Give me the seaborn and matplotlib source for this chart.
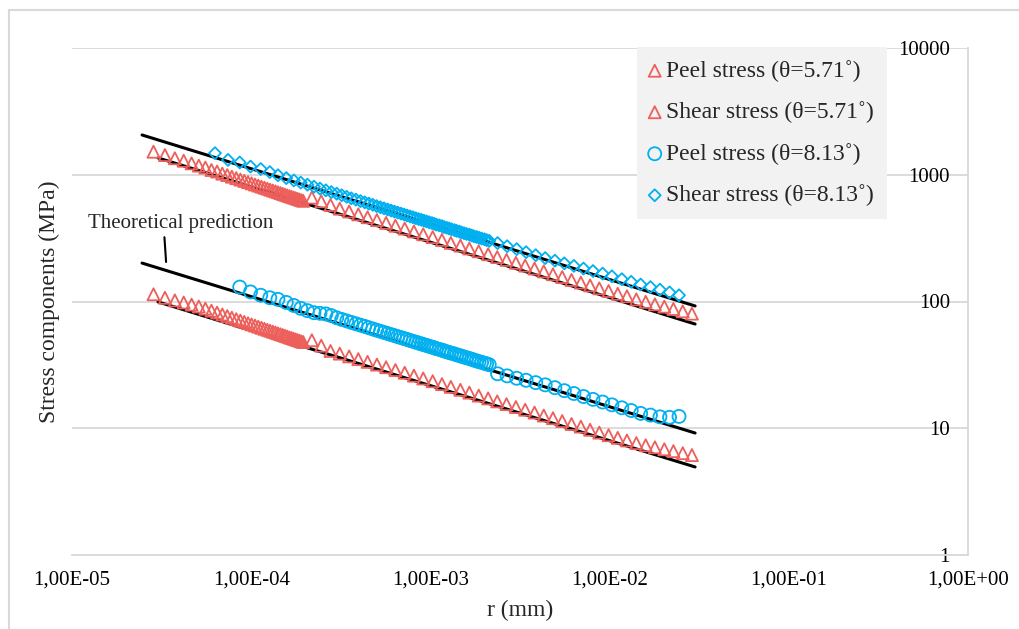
"""Stress components near the wedge tip versus distance r, log-log, with theoretical prediction lines."""

import matplotlib
matplotlib.use("Agg")
import matplotlib.pyplot as plt
from matplotlib.lines import Line2D
from matplotlib.ticker import NullLocator
import seaborn as sns

# --- data ---
# theta = 5.71 deg (triangles), r in mm, stresses in MPa
red_r = [2.85e-5, 3.3e-5, 3.75e-5, 4.2e-5, 4.65e-5, 5.1e-5, 5.55e-5, 6.0e-5, 6.45e-5, 6.9e-5,
         7.35e-5, 7.8e-5, 8.25e-5, 8.7e-5, 9.15e-5, 9.6e-5, 1.005e-4, 1.05e-4, 1.095e-4, 1.14e-4,
         1.185e-4, 1.23e-4, 1.275e-4, 1.32e-4, 1.365e-4, 1.41e-4, 1.455e-4, 1.5e-4, 1.545e-4, 1.59e-4,
         1.635e-4, 1.68e-4, 1.725e-4, 1.77e-4, 1.815e-4, 1.86e-4, 1.905e-4, 1.95e-4,
         2.18e-4, 2.46e-4, 2.77e-4, 3.12e-4, 3.52e-4, 3.96e-4, 4.46e-4, 5.03e-4, 5.66e-4, 6.38e-4,
         7.19e-4, 8.09e-4, 9.12e-4, 1.03e-3, 1.16e-3, 1.3e-3, 1.47e-3, 1.65e-3, 1.86e-3, 2.1e-3,
         2.36e-3, 2.66e-3, 3.0e-3, 3.38e-3, 3.81e-3, 4.29e-3, 4.83e-3, 5.44e-3, 6.13e-3, 6.91e-3,
         7.78e-3, 8.76e-3, 9.87e-3, 1.11e-2, 1.25e-2, 1.41e-2, 1.59e-2, 1.79e-2, 2.02e-2, 2.27e-2,
         2.56e-2, 2.88e-2]
red_peel = [114, 107, 102, 98.2, 94.5, 91.3, 87.8, 84.6, 81.7, 79, 76.7, 74.5,
            72.5, 70.7, 69, 67.4, 65.9, 64.6, 63.3, 62, 60.9, 59.8, 58.8, 57.8,
            56.9, 56, 55.2, 54.4, 53.6, 52.9, 52.1, 51.5, 50.8, 50.2, 49.6, 49,
            48.4, 47.9, 49.5, 44.8, 40.7, 38.8, 36.9, 35.1, 33.4, 31.8, 30.3, 28.8,
            27.4, 26, 24.7, 23.5, 22.3, 21.2, 20.1, 19.1, 18.1, 17.2, 16.3, 15.5,
            14.7, 14, 13.3, 12.6, 12, 11.4, 10.8, 10.3, 9.73, 9.24, 8.81, 8.4,
            8.01, 7.64, 7.34, 7.08, 6.83, 6.6, 6.36, 6.14]
red_shear = [1520, 1430, 1350, 1290, 1230, 1180, 1140, 1090, 1060, 1020, 993, 965,
             940, 916, 894, 874, 855, 837, 821, 805, 790, 777, 763, 751,
             739, 728, 717, 706, 696, 687, 678, 669, 661, 653, 645, 637,
             630, 623, 661, 618, 578, 540, 513, 487, 462, 439, 417, 396,
             376, 357, 339, 322, 306, 290, 276, 262, 249, 236, 224, 213,
             202, 192, 182, 173, 164, 156, 148, 141, 134, 127, 121, 115,
             110, 104, 99.4, 95, 91.1, 87.3, 83.7, 80.2]

# theta = 8.13 deg (circles / diamonds); the peel series starts at the third node
blue_r = [6.28e-5, 7.42e-5, 8.63e-5, 9.91e-5, 1.13e-4, 1.27e-4, 1.41e-4, 1.57e-4, 1.73e-4, 1.89e-4,
          2.06e-4, 2.24e-4, 2.42e-4, 2.61e-4, 2.8e-4, 3.0e-4, 3.2e-4, 3.41e-4, 3.62e-4, 3.84e-4,
          4.07e-4, 4.3e-4, 4.53e-4, 4.77e-4, 5.01e-4, 5.26e-4, 5.51e-4, 5.77e-4, 6.03e-4, 6.3e-4,
          6.57e-4, 6.85e-4, 7.13e-4, 7.41e-4, 7.7e-4, 8.0e-4, 8.29e-4, 8.59e-4, 8.9e-4, 9.21e-4,
          9.52e-4, 9.84e-4, 1.02e-3, 1.05e-3, 1.08e-3, 1.12e-3, 1.16e-3, 1.19e-3, 1.23e-3, 1.27e-3,
          1.31e-3, 1.36e-3, 1.4e-3, 1.45e-3, 1.49e-3, 1.54e-3, 1.59e-3, 1.65e-3, 1.7e-3, 1.75e-3,
          1.81e-3, 1.87e-3, 1.93e-3, 2.0e-3, 2.06e-3, 2.13e-3, 2.37e-3, 2.68e-3, 3.03e-3, 3.42e-3,
          3.87e-3, 4.37e-3, 4.95e-3, 5.59e-3, 6.32e-3, 7.15e-3, 8.08e-3, 9.14e-3, 1.03e-2, 1.17e-2,
          1.32e-2, 1.49e-2, 1.69e-2, 1.91e-2, 2.16e-2, 2.44e-2]
blue_peel = [130, 119, 112, 107, 104, 98.3, 93, 88.3, 84.7, 81.6, 80.7, 79.8, 77.4, 74.4,
             72.2, 70.3, 68.4, 66.7, 65.1, 63.6, 62.1, 60.7, 59.4, 58.2, 57, 55.9, 54.8, 53.8,
             52.8, 51.9, 51, 50.2, 49.3, 48.5, 47.8, 47, 46.3, 45.6, 45, 44.3, 43.7, 43.1,
             42.5, 41.9, 41.3, 40.8, 40.2, 39.6, 39.1, 38.6, 38, 37.5, 37, 36.5, 36, 35.5,
             35, 34.5, 34, 33.5, 33.1, 32.6, 32.2, 31.7, 26.9, 25.9, 24.8, 23.9, 22.9, 22,
             20.9, 19.8, 18.8, 17.8, 16.9, 16.1, 15.3, 14.5, 13.8, 13.1, 12.7, 12.3, 12.2, 12.4]
blue_shear = [1480, 1310, 1250, 1160, 1110, 1050, 992, 941, 902, 867,
              835, 805, 778, 753, 730, 709, 689, 670, 652, 636,
              620, 606, 592, 579, 566, 554, 543, 532, 522, 512,
              503, 494, 486, 477, 469, 462, 454, 447, 441, 434,
              428, 422, 416, 410, 404, 399, 393, 387, 382, 377,
              372, 366, 361, 356, 351, 346, 341, 337, 332, 327,
              323, 318, 314, 310, 305, 301, 289, 273, 259, 245,
              232, 220, 210, 200, 191, 182, 174, 166, 158, 150,
              143, 136, 130, 124, 118, 112]

# theoretical prediction lines (straight in log-log, end points)
theory_r_813 = [2.46e-5, 3.0e-2]
theory_r_571 = [3.02e-5, 3.0e-2]
theory_shear_813 = [2060, 92.2]
theory_shear_571 = [1358, 66.4]
theory_peel_813 = [201, 9.17]
theory_peel_571 = [99.3, 4.95]

x_ticks = [1e-5, 1e-4, 1e-3, 1e-2, 1e-1, 1]
x_tick_labels = ["1,00E-05", "1,00E-04", "1,00E-03", "1,00E-02", "1,00E-01", "1,00E+00"]
y_ticks = [1, 10, 100, 1000, 10000]
y_tick_labels = ["1", "10", "100", "1000", "10000"]

RED = "#EC5F5B"
BLUE = "#00B0F0"
GRID = "#D9D9D9"

sns.set_theme(style="white")
plt.rcParams["font.family"] = ["Liberation Serif", "DejaVu Serif"]

fig = plt.figure(figsize=(10.19, 6.29), dpi=100)
ax = fig.add_axes([72 / 1019, 1 - 555 / 629, 896 / 1019, 507 / 629])
ax.set_xscale("log")
ax.set_yscale("log")

# theory lines under the markers
for tr, tv in [(theory_r_813, theory_shear_813), (theory_r_571, theory_shear_571),
               (theory_r_813, theory_peel_813), (theory_r_571, theory_peel_571)]:
    sns.lineplot(x=tr, y=tv, color="black", lw=2.2, ax=ax, zorder=2)

# hollow markers
sns.scatterplot(x=red_r, y=red_peel, marker="^", s=75, color=RED, facecolor="none",
                edgecolor=RED, linewidth=1.3, ax=ax, zorder=3, label="Peel stress (θ=5.71˚)")
sns.scatterplot(x=red_r, y=red_shear, marker="^", s=75, color=RED, facecolor="none",
                edgecolor=RED, linewidth=1.3, ax=ax, zorder=3, label="Shear stress (θ=5.71˚)")
sns.scatterplot(x=blue_r[2:], y=blue_peel, marker="o", s=88, color=BLUE, facecolor="none",
                edgecolor=BLUE, linewidth=1.3, ax=ax, zorder=3, label="Peel stress (θ=8.13˚)")
sns.scatterplot(x=blue_r, y=blue_shear, marker="D", s=37, color=BLUE, facecolor="none",
                edgecolor=BLUE, linewidth=1.3, ax=ax, zorder=3, label="Shear stress (θ=8.13˚)")

# axes, Excel-like: value labels on the right, inside the plot area
ax.set_xlim(1e-5, 1)
ax.set_ylim(1, 1e4)
ax.set_xticks(x_ticks)
ax.set_xticklabels(x_tick_labels)
ax.set_yticks(y_ticks)
ax.set_yticklabels(y_tick_labels)
ax.xaxis.set_minor_locator(NullLocator())
ax.yaxis.set_minor_locator(NullLocator())
ax.yaxis.tick_right()
ax.yaxis.set_label_position("left")
ax.tick_params(axis="y", length=0, pad=-13, labelsize=15, colors="black")
ax.tick_params(axis="x", length=0, pad=11, labelsize=15, colors="black")
for t in ax.get_yticklabels():
    t.set_horizontalalignment("right")

ax.grid(axis="y", which="major", color=GRID, lw=1.3)
ax.grid(axis="x", visible=False)
ax.set_axisbelow(True)
for side in ["left", "top"]:
    ax.spines[side].set_visible(False)
for side in ["bottom", "right"]:
    ax.spines[side].set_color(GRID)
    ax.spines[side].set_linewidth(1.3)

ax.set_xlabel("r (mm)", fontsize=17)
ax.set_ylabel("Stress components (MPa)", fontsize=17)
ax.xaxis.set_label_coords(0.5, -0.089)
ax.yaxis.set_label_coords(-0.0134, 0.5)

ax.annotate("Theoretical prediction", xy=(3.35e-5, 205), xytext=(1.23e-5, 416),
            fontsize=15, ha="left", va="center",
            arrowprops=dict(arrowstyle="-", color="black", lw=1.5,
                            relpos=(0.41, 0), shrinkA=1, shrinkB=0))

ax.legend(loc="upper left", bbox_to_anchor=(637 / 1019, 1 - 47 / 629),
          bbox_transform=fig.transFigure, frameon=True, facecolor="#F2F2F2",
          edgecolor="none", framealpha=1, fancybox=False, fontsize=17,
          handlelength=0.4, handletextpad=0.28, labelspacing=0.83,
          borderpad=0.55, borderaxespad=0)

# chart area border (left and top edges visible in the reference)
fig.add_artist(Line2D([9 / 1019, 9 / 1019], [0, 1 - 10 / 629], transform=fig.transFigure,
                      color=GRID, lw=1.5))
fig.add_artist(Line2D([9 / 1019, 1], [1 - 10 / 629, 1 - 10 / 629], transform=fig.transFigure,
                      color=GRID, lw=1.5))

fig.savefig("out.png", dpi=100)
